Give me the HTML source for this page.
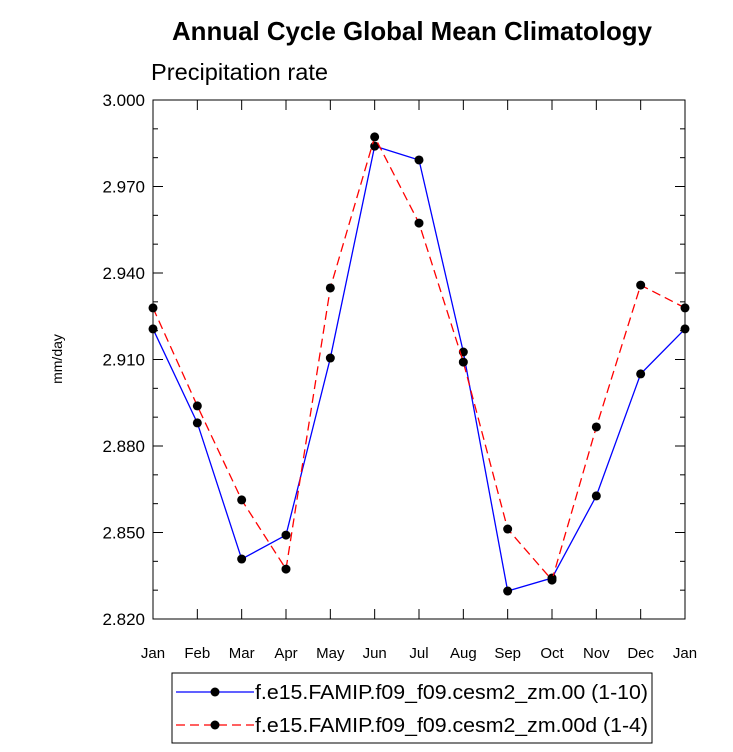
<!DOCTYPE html>
<html><head><meta charset="utf-8"><style>
body{margin:0;background:#fff;}
svg{display:block;font-family:"Liberation Sans",sans-serif;}
</style></head><body>
<svg id="chart" width="733" height="752">
<text x="412" y="40" text-anchor="middle" font-size="26" font-weight="bold" textLength="480" lengthAdjust="spacingAndGlyphs">Annual Cycle Global Mean Climatology</text>
<text x="151" y="80" font-size="23" textLength="177" lengthAdjust="spacingAndGlyphs">Precipitation rate</text>
<text transform="translate(62,359) rotate(-90)" text-anchor="middle" font-size="14">mm/day</text>
<rect x="153" y="100" width="532" height="519" fill="none" stroke="#000" stroke-width="1"/>
<g id="axes"></g>
<g id="series"></g>
<g>
<rect x="172" y="673" width="480" height="70" fill="none" stroke="#000"/>
<line x1="176" y1="692" x2="254" y2="692" stroke="#0000ff" stroke-width="1.3"/>
<circle cx="215" cy="692" r="4.5" fill="#000"/>
<text x="255" y="699" font-size="20" textLength="393" lengthAdjust="spacingAndGlyphs">f.e15.FAMIP.f09_f09.cesm2_zm.00 (1-10)</text>
<line x1="176" y1="725" x2="254" y2="725" stroke="#ff0000" stroke-width="1.3" stroke-dasharray="9,5"/>
<circle cx="215" cy="725" r="4.5" fill="#000"/>
<text x="255" y="732" font-size="20" textLength="393" lengthAdjust="spacingAndGlyphs">f.e15.FAMIP.f09_f09.cesm2_zm.00d (1-4)</text>
</g>
</svg>
<script>
const months=["Jan","Feb","Mar","Apr","May","Jun","Jul","Aug","Sep","Oct","Nov","Dec","Jan"];
const blueVals=[2.9206,2.888,2.8408,2.8491,2.9105,2.984,2.9792,2.9126,2.8297,2.8342,2.8627,2.905,2.9206];
const redVals=[2.9279,2.8939,2.8613,2.8373,2.9348,2.9872,2.9573,2.9091,2.8512,2.8335,2.8866,2.9358,2.9279];
const yTicks=[2.82,2.85,2.88,2.91,2.94,2.97,3.0];
const yMin=2.82,yMax=3.0,L=153,R=685,T=100,B=619;
const NS="http://www.w3.org/2000/svg";
function xs(i){return L+(R-L)*i/(months.length-1);}
function ys(v){return B-(v-yMin)/(yMax-yMin)*(B-T);}
function mk(t,a,p){const e=document.createElementNS(NS,t);for(const k in a)e.setAttribute(k,a[k]);p.appendChild(e);return e;}
const ax=document.getElementById('axes');
for(let v=yMin;v<=yMax+1e-9;v+=0.01){
 const y=ys(v);const major=Math.abs(((v-yMin)/0.03)-Math.round((v-yMin)/0.03))<1e-6;const len=major?10:5;
 mk('line',{x1:L,y1:y,x2:L+len,y2:y,stroke:'#000'},ax);
 mk('line',{x1:R,y1:y,x2:R-len,y2:y,stroke:'#000'},ax);
}
yTicks.forEach(v=>{const t=mk('text',{x:L-8,y:ys(v)+6,'text-anchor':'end','font-size':17},ax);t.textContent=v.toFixed(3);

});
months.forEach((m,i)=>{const x=xs(i);
 mk('line',{x1:x,y1:B,x2:x,y2:B-10,stroke:'#000'},ax);
 mk('line',{x1:x,y1:T,x2:x,y2:T+10,stroke:'#000'},ax);
 const t=mk('text',{x:x,y:B+39,'text-anchor':'middle','font-size':15},ax);t.textContent=m;
 
 });
const sg=document.getElementById('series');
function draw(vals,color,dash,name){
 const pts=vals.map((v,i)=>xs(i)+','+ys(v)).join(' ');
 const pl=mk('polyline',{points:pts,fill:'none',stroke:color,'stroke-width':1.3,'stroke-dasharray':dash},sg);
 
 
 vals.forEach((v,i)=>{const c=mk('circle',{cx:xs(i),cy:ys(v),r:4.5,fill:'#000'},sg);
 
 });
}
draw(blueVals,'#0000ff','none','blue-series');
draw(redVals,'#ff0000','9,5','red-series');
</script>
</body></html>
